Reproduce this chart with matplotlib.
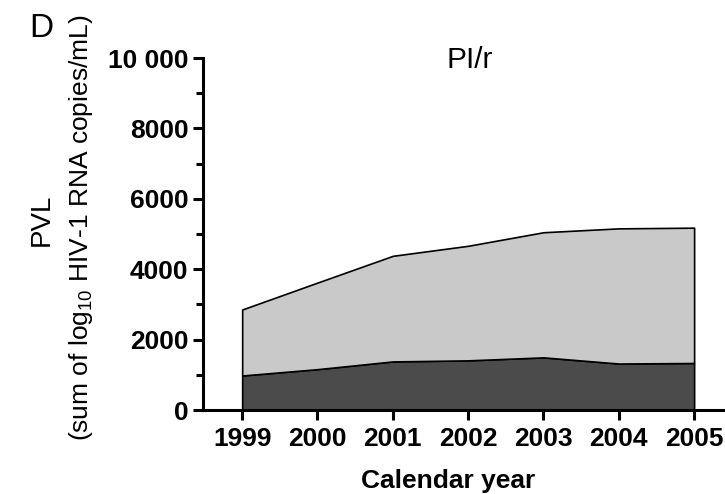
#!/usr/bin/env python3

import matplotlib
matplotlib.use('Agg')
import matplotlib.pyplot as plt
from matplotlib.ticker import MultipleLocator

plt.rcParams['font.family'] = ['Liberation Sans', 'DejaVu Sans']
plt.rcParams['mathtext.fontset'] = 'custom'
plt.rcParams['mathtext.rm'] = 'Liberation Sans'
plt.rcParams['mathtext.default'] = 'regular'

years = [1999, 2000, 2001, 2002, 2003, 2004, 2005]
# lower (dark) layer and upper (light) layer of the stacked area
dark_pvl = [980, 1160, 1380, 1410, 1495, 1320, 1335]
light_pvl = [1875, 2460, 3000, 3255, 3555, 3840, 3845]
ytick_vals = [0, 2000, 4000, 6000, 8000, 10000]
ytick_labels = ['0', '2000', '4000', '6000', '8000', '10 000']

dark_col = '#4b4b4b'
light_col = '#c9c9c9'

W, H = 725, 494


def plot_pvl(output):
    fig = plt.figure(figsize=(W / 100, H / 100), dpi=100)
    ax = fig.add_axes([203 / W, 1 - 410 / H, 522 / W, 352 / H])

    ax.stackplot(years, dark_pvl, light_pvl, colors=[dark_col, light_col],
                 edgecolor='black', linewidth=1.2)

    ax.set_xlim(1998.48, 2005.41)
    ax.set_ylim(0, 10000)

    ax.spines['top'].set_visible(False)
    ax.spines['right'].set_visible(False)
    for side in ('left', 'bottom'):
        ax.spines[side].set_linewidth(2.2)

    ax.set_xticks(years)
    ax.set_yticks(ytick_vals)
    ax.set_yticklabels(ytick_labels)
    ax.yaxis.set_minor_locator(MultipleLocator(1000))
    ax.tick_params(axis='both', which='major', direction='out', length=7.5,
                   width=2.2, labelsize=19)
    ax.tick_params(axis='x', pad=5)
    ax.tick_params(axis='y', pad=3)
    ax.tick_params(axis='y', which='minor', direction='out', length=5, width=2.2)
    for lab in ax.get_xticklabels() + ax.get_yticklabels():
        lab.set_fontweight('bold')

    fig.text(448 / W, 1 - 488 / H, 'Calendar year', ha='center', va='baseline',
             fontsize=19, fontweight='bold')
    fig.text(470 / W, 1 - 68 / H, 'PI/r', ha='center', va='baseline', fontsize=21.5)

    fig.text(42 / W, 1 - 220 / H, 'PVL', rotation=90, ha='center', va='center',
             fontsize=20)
    fig.text(81 / W, 1 - 228 / H, r'(sum of log$_{10}$ HIV-1 RNA copies/mL)',
             rotation=90, ha='center', va='center', fontsize=19)
    fig.text(41 / W, 1 - 37 / H, 'D', ha='center', va='baseline', fontsize=24)

    fig.savefig(output, dpi=100)


if __name__ == '__main__':
    plot_pvl('out.png')
